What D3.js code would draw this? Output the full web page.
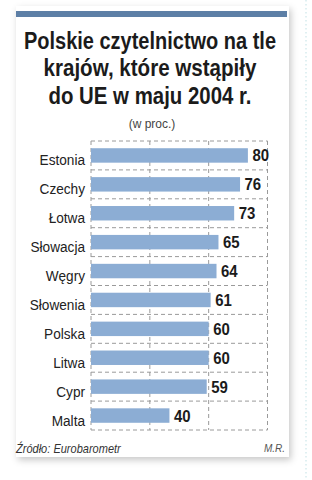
<!DOCTYPE html>
<html>
<head>
<meta charset="utf-8">
<script src="https://cdn.jsdelivr.net/npm/d3@7"></script>
<style>
  body { margin: 0; background: #fff; }
  svg { display: block; }
</style>
</head>
<body>
<svg id="chart" width="312" height="480"></svg>
<script>
// data
var countries = ['Estonia', 'Czechy', 'Łotwa', 'Słowacja', 'Węgry', 'Słowenia', 'Polska', 'Litwa', 'Cypr', 'Malta']
var values = [80, 76, 73, 65, 64, 61, 60, 60, 59, 40]
var gridTicks = [0, 30, 60, 90]
var titleLines = ['Polskie czytelnictwo na tle', 'krajów, które wstąpiły', 'do UE w maju 2004 r.']
var subtitle = '(w proc.)'
var source = 'Źródło: Eurobarometr'
var author = 'M.R.'

// the original uses a condensed face, we squeeze the normal one a bit
var squeeze = 0.88
var titleWidths = [252, 213, 203]

var svg = d3.select('#chart')

// card shadow
var defs = svg.append('defs')
var f = defs.append('filter').attr('id', 'shadow')
  .attr('x', '-10%').attr('y', '-10%').attr('width', '120%').attr('height', '120%')
f.append('feDropShadow')
  .attr('dx', 2).attr('dy', 3).attr('stdDeviation', 3.5)
  .attr('flood-color', '#000').attr('flood-opacity', 0.22)

// faint dotted line on the page background, right of the card
svg.append('line')
  .attr('x1', 306).attr('x2', 306).attr('y1', 0).attr('y2', 480)
  .attr('stroke', '#d6ecee').attr('stroke-width', 1.5)
  .attr('stroke-dasharray', '1.5,2.5')

svg.append('rect')
  .attr('x', 16).attr('y', 6).attr('width', 273).attr('height', 451)
  .attr('fill', '#fff')
  .attr('filter', 'url(#shadow)')

// blue strip on top
svg.append('rect')
  .attr('x', 16).attr('y', 11).attr('width', 271).attr('height', 6)
  .attr('fill', '#5d7fa6')

// title
svg.append('g').selectAll('text')
  .data(titleLines)
  .enter().append('text')
  .attr('x', 150)
  .attr('y', function (d, i) { return 48.5 + i * 27.5 })
  .attr('text-anchor', 'middle')
  .attr('textLength', function (d, i) { return titleWidths[i] })
  .attr('lengthAdjust', 'spacingAndGlyphs')
  .style('font-family', '"Liberation Sans", Arial, sans-serif')
  .style('font-weight', 'bold')
  .style('font-size', '23px')
  .attr('fill', '#1b1b1b')
  .text(function (d) { return d })

svg.append('text')
  .attr('x', 152).attr('y', 127.5)
  .attr('text-anchor', 'middle')
  .style('font-family', '"Liberation Sans", Arial, sans-serif')
  .style('font-size', '12px')
  .attr('fill', '#444')
  .text(subtitle)

// scales
var x = d3.scaleLinear().domain([0, 90]).range([91, 267.5])
var y = d3.scaleBand().domain(countries).range([141, 430]).paddingInner(0.5).paddingOuter(0.25)

var grid = svg.append('g')
  .attr('stroke', '#9a9a9a')
  .attr('stroke-width', 1)
  .attr('stroke-dasharray', '4,3')

// horizontal dashed lines between rows
var rowLines = d3.range(countries.length + 1).map(function (i) { return 141 + i * (289 / countries.length) })
grid.selectAll('line.h')
  .data(rowLines)
  .enter().append('line')
  .attr('class', 'h')
  .attr('x1', x(0)).attr('x2', x(90))
  .attr('y1', function (d) { return d }).attr('y2', function (d) { return d })

// vertical dashed lines
grid.selectAll('line.v')
  .data(gridTicks)
  .enter().append('line')
  .attr('class', 'v')
  .attr('x1', function (d) { return x(d) }).attr('x2', function (d) { return x(d) })
  .attr('y1', 141).attr('y2', 430)

var data = countries.map(function (c, i) { return { name: c, value: values[i] } })

// bars
svg.append('g').selectAll('rect')
  .data(data)
  .enter().append('rect')
  .attr('x', x(0))
  .attr('y', function (d) { return y(d.name) })
  .attr('width', function (d) { return x(d.value) - x(0) })
  .attr('height', y.bandwidth())
  .attr('fill', '#8cadd4')

// country names
svg.append('g').selectAll('text')
  .data(data)
  .enter().append('text')
  .attr('transform', function (d) {
    return 'translate(85,' + (y(d.name) + y.bandwidth() / 2 + 10) + ') scale(' + squeeze + ',1)'
  })
  .attr('text-anchor', 'end')
  .style('font-family', '"Liberation Sans", Arial, sans-serif')
  .style('font-size', '15.5px')
  .attr('fill', '#222')
  .text(function (d) { return d.name })

// values
svg.append('g').selectAll('text')
  .data(data)
  .enter().append('text')
  .attr('transform', function (d) {
    return 'translate(' + (x(d.value) + 4.5) + ',' + (y(d.name) + y.bandwidth() / 2 + 6) + ') scale(' + squeeze + ',1)'
  })
  .style('font-family', '"Liberation Sans", Arial, sans-serif')
  .style('font-weight', 'bold')
  .style('font-size', '17px')
  .attr('fill', '#1b1b1b')
  .text(function (d) { return d.value })

// footer
svg.append('text')
  .attr('transform', 'translate(16,453) scale(0.92,1)')
  .style('font-family', '"Liberation Sans", Arial, sans-serif')
  .style('font-style', 'italic')
  .style('font-size', '12px')
  .attr('fill', '#333')
  .text(source)

svg.append('text')
  .attr('x', 285).attr('y', 452)
  .attr('text-anchor', 'end')
  .style('font-family', '"Liberation Sans", Arial, sans-serif')
  .style('font-style', 'italic')
  .style('font-size', '10px')
  .attr('fill', '#555')
  .text(author)
</script>
</body>
</html>
